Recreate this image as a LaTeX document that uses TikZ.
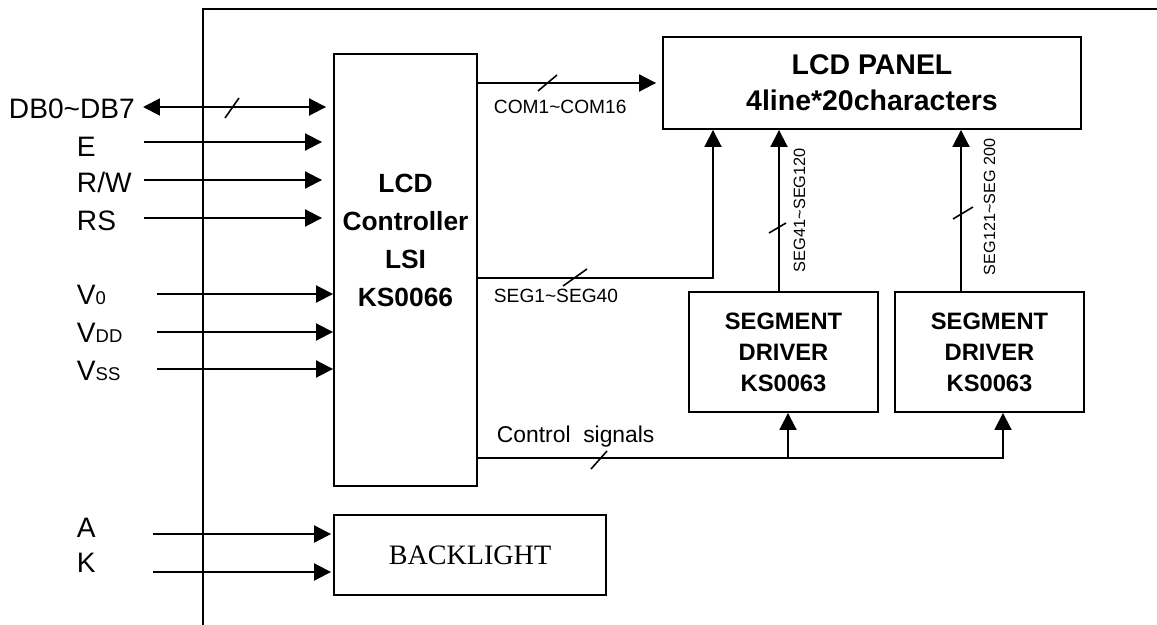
\documentclass[tikz,border=0pt]{standalone}
\usepackage{fontspec}
\setmainfont{Liberation Sans}
\newfontfamily\timesfont{Liberation Serif}
\usetikzlibrary{arrows.meta,positioning,calc}

\begin{document}
\begin{tikzpicture}[
    x=0.02cm, y=-0.02cm,
    line width=1.1pt,
    >={Triangle[length=0.34cm,width=0.34cm]},
    block/.style={rectangle, draw, line width=1.1pt, inner sep=0pt},
    pin/.style={anchor=base west, inner sep=0pt, font=\fontsize{16}{18}\selectfont},
    buslabel/.style={anchor=base west, inner sep=0pt, font=\fontsize{10.9}{13}\selectfont},
    tick/.style={line width=0.9pt}
]
\useasboundingbox (0,0) rectangle (1157,625);

% Frame
\draw (203,625) -- (203,9) -- (1157,9);

% Blocks
\node[block, minimum width=2.86cm, minimum height=8.64cm] (ctrl) at (405.5,270) {};
\node[align=center, font=\fontsize{15}{21.6}\selectfont\bfseries] (ctrltext) at (405.5,240.5) {LCD\\Controller\\LSI\\KS0066};
\node[block, minimum width=8.36cm, minimum height=1.84cm, align=center, font=\fontsize{16.2}{20.4}\selectfont\bfseries] (panel) at (872,83) {LCD PANEL\\4line*20characters};
\node[block, minimum width=3.78cm, minimum height=2.4cm, align=center, font=\fontsize{13.5}{17.6}\selectfont\bfseries] (drv1) at (783.5,352) {SEGMENT\\DRIVER\\KS0063};
\node[block, minimum width=3.78cm, minimum height=2.4cm, align=center, font=\fontsize{13.5}{17.6}\selectfont\bfseries] (drv2) at (989.5,352) {SEGMENT\\DRIVER\\KS0063};
\node[block, minimum width=5.44cm, minimum height=1.6cm, font=\timesfont\fontsize{16}{18}\selectfont] (backlight) at (470,555) {BACKLIGHT};

% Pin names
\node[pin] (db) at (8,119) {DB0\textasciitilde DB7};
\node[pin] (e) at (76,156) {E};
\node[pin] (rw) at (76,193) {R/W};
\node[pin] (rs) at (76,231) {RS};
\node[pin] (v0) at (76,304) {V{\fontsize{10.5}{12}\selectfont 0}};
\node[pin] (vdd) at (76,342) {V{\fontsize{10.5}{12}\selectfont DD}};
\node[pin] (vss) at (76,380) {V{\fontsize{10.5}{12}\selectfont SS}};
\node[pin] (a) at (76,537) {A};
\node[pin] (k) at (76,572) {K};

% Inputs
\coordinate (dbin) at (143,107);
\draw[<->, shorten >=0.14cm] (dbin) -- (dbin -| ctrl.west);
\foreach \n/\y in {e/142, rw/180, rs/218} {
    \coordinate (\n-in) at (144,\y);
    \draw[->, shorten >=0.22cm] (\n-in) -- (\n-in -| ctrl.west);
}
\foreach \n/\y in {v0/294, vdd/332, vss/369} {
    \coordinate (\n-in) at (157,\y);
    \draw[->] (\n-in) -- (\n-in -| ctrl.west);
}
\foreach \n/\y in {a/534, k/572} {
    \coordinate (\n-in) at (153,\y);
    \draw[->, shorten >=0.04cm] (\n-in) -- (\n-in -| backlight.west);
}

% Buses
\draw[->, shorten >=0.12cm] (ctrl.east |- panel.west) -- (panel.west);
\coordinate (segturn) at (713,278);
\draw[->] (ctrl.east |- segturn) -- (segturn) -- (segturn |- panel.south);
\draw[->] ([xshift=-0.09cm]drv1.north) -- ([xshift=-0.09cm]drv1.north |- panel.south);
\draw[->] ([xshift=-0.57cm]drv2.north) -- ([xshift=-0.57cm]drv2.north |- panel.south);
\coordinate (ctlturn) at (1003,458);
\draw[->] (ctrl.east |- ctlturn) -- (ctlturn) -- (ctlturn |- drv2.south);
\draw[->] ([xshift=0.09cm]drv1.south |- ctlturn) -- ([xshift=0.09cm]drv1.south);

% Bus ticks
\draw[tick] (225,118) -- (239,98);
\draw[tick] (538,91) -- (557,75);
\draw[tick] (563,286) -- (587,269);
\draw[tick] (769,233) -- (786,223);
\draw[tick] (953,219) -- (973,207);
\draw[tick] (591,469) -- (607,451);

% Bus labels
\node[buslabel] (comlbl) at (493,113) {COM1\textasciitilde COM16};
\node[buslabel] (seglbl) at (493,302) {SEG1\textasciitilde SEG40};
\node[buslabel, font=\fontsize{13}{15}\selectfont] (ctllbl) at (496,442) {Control\ \ signals};
\node[buslabel, rotate=90, font=\fontsize{9.3}{11}\selectfont] (seg41lbl) at (805,273) {SEG41\textasciitilde SEG120};
\node[buslabel, rotate=90, font=\fontsize{9.2}{11}\selectfont] (seg121lbl) at (995,276) {SEG121\textasciitilde SEG 200};

\end{tikzpicture}
\end{document}
